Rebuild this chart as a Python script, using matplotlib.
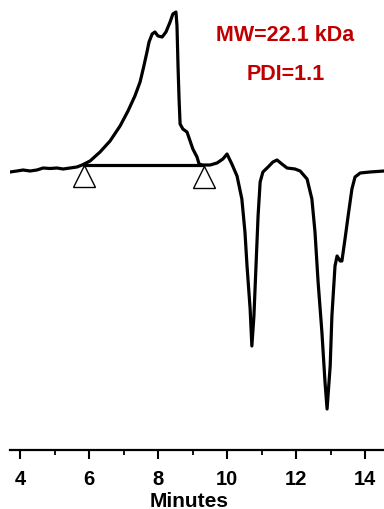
import matplotlib
matplotlib.use("Agg")
import matplotlib.pyplot as plt

# Chromatogram trace (retention time in minutes, detector signal in arbitrary units)
time_min = [3.71, 3.91, 4.09, 4.29, 4.49, 4.67, 4.87, 5.07, 5.25, 5.45, 5.65, 5.80,
            6.03, 6.32, 6.61, 6.90, 7.13, 7.33, 7.48, 7.57, 7.68, 7.74, 7.83, 7.91,
            8.00, 8.12, 8.23, 8.35, 8.43, 8.52, 8.55, 8.58, 8.61, 8.64, 8.72, 8.84,
            8.93, 9.01, 9.13, 9.19, 9.28, 9.51, 9.71, 9.88, 10.00, 10.14, 10.29, 10.43,
            10.52, 10.58, 10.67, 10.72, 10.78, 10.84, 10.90, 10.96, 11.04, 11.19, 11.33,
            11.45, 11.59, 11.74, 11.97, 12.12, 12.32, 12.46, 12.55, 12.64, 12.75, 12.84,
            12.90, 12.99, 13.04, 13.13, 13.19, 13.28, 13.33, 13.42, 13.51, 13.62, 13.71,
            13.86, 14.14, 14.55]
signal = [-1, 0, 1, 0, 1, 3, 2.5, 3, 2, 3, 4, 6,
          10, 19, 30, 45, 60, 75, 89, 102, 119, 129, 137, 139,
          135, 134, 139, 149, 157, 159, 145, 105, 72, 47, 42, 39,
          30, 22, 14, 7, 6, 6, 8, 12, 17, 7, -5, -28,
          -61, -95, -138, -175, -145, -95, -45, -11, -1, 4, 9,
          11, 7, 3, 2, 0, -8, -28, -61, -111, -161, -211,
          -238, -195, -145, -95, -85, -90, -90, -68, -45, -18, -6,
          -2, -1, 0]

# Integration baseline and its end markers
baseline_t = [5.83, 9.33]
baseline_s = [6, 6]
marker_t = [5.86, 9.33]
marker_s = [-5, -5.5]

xticks_major = [4, 6, 8, 10, 12, 14]
xticks_minor = [5, 7, 9, 11, 13]
annot_lines = ["MW=22.1 kDa", "PDI=1.1"]
x_label = "Minutes"

plt.rcParams['font.family'] = ['Liberation Sans', 'DejaVu Sans']

fig = plt.figure(figsize=(3.84, 5.10), dpi=100)
ax = fig.add_axes([10/384, 59/510, 374/384, 451/510])

ax.plot(baseline_t, baseline_s, color='black', lw=2.3, zorder=3, solid_capstyle='butt')
ax.plot(marker_t, marker_s, linestyle='none', marker='^', markersize=15.8,
        markerfacecolor='white', markeredgecolor='black', markeredgewidth=1.0, zorder=2)
ax.plot(time_min, signal, color='black', lw=2.3, zorder=4,
        solid_joinstyle='round', solid_capstyle='round')

ax.set_xlim(3.71, 14.55)
ax.set_ylim(-279, 172)

for s in ['left', 'right', 'top']:
    ax.spines[s].set_visible(False)
ax.spines['bottom'].set_linewidth(1.6)
ax.set_yticks([])
ax.set_xticks(xticks_major)
ax.set_xticks(xticks_minor, minor=True)
ax.set_xticklabels([str(v) for v in xticks_major], fontsize=14.5, fontweight='bold')
ax.tick_params(axis='x', which='major', direction='out', length=6.5, width=1.5, pad=7)
ax.tick_params(axis='x', which='minor', direction='out', length=3.5, width=1.3)
ax.set_xlabel(x_label, fontsize=15, fontweight='bold')
ax.xaxis.set_label_coords(0.479, -0.090)

red = '#C00000'
ax.text(0.735, 0.922, annot_lines[0], transform=ax.transAxes, ha='center', va='center',
        fontsize=15.5, fontweight='bold', color=red)
ax.text(0.738, 0.834, annot_lines[1], transform=ax.transAxes, ha='center', va='center',
        fontsize=15.5, fontweight='bold', color=red)

fig.savefig('out.png', dpi=100)
